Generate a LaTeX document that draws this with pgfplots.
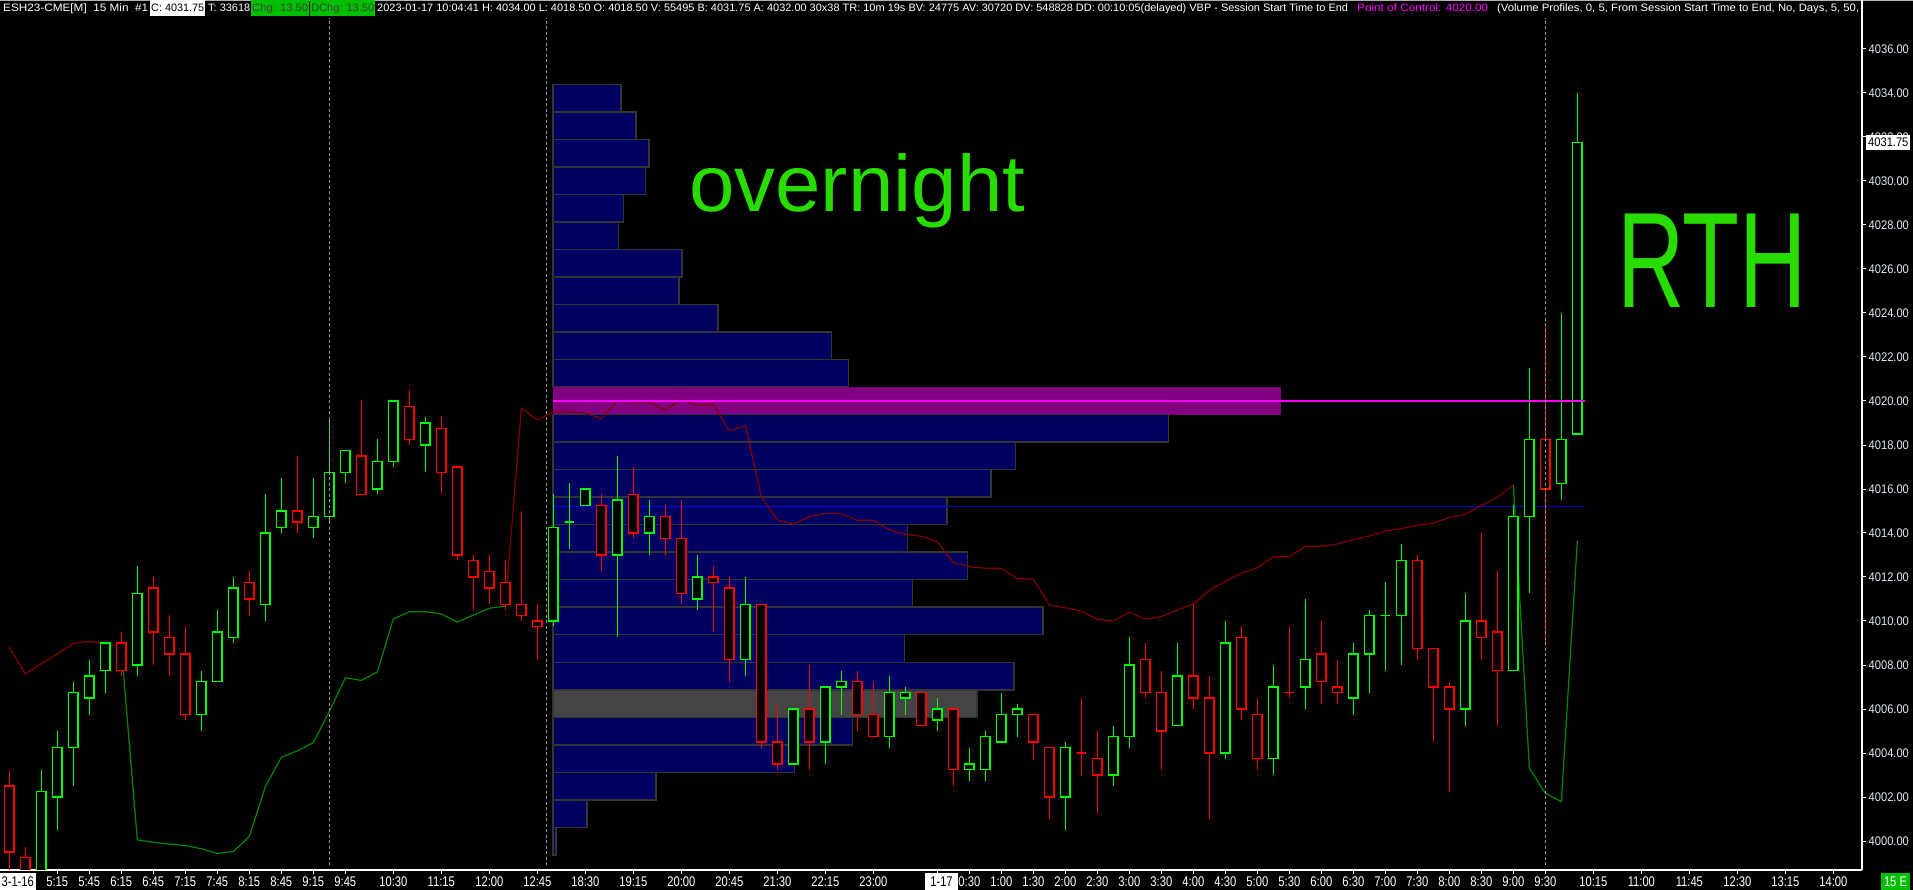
\documentclass[border=0pt]{standalone}
\usepackage{fontspec}
\setmainfont{Liberation Sans}
\newfontfamily\narx[FakeStretch=0.8]{Liberation Sans}
\newfontfamily\nary[FakeStretch=0.89]{Liberation Sans}
\usepackage{graphicx}
\usepackage{pgfplots}
\pgfplotsset{compat=1.18}
\usepgfplotslibrary{statistics}

\definecolor{cgreen}{RGB}{0,255,0}
\definecolor{cred}{RGB}{255,0,0}
\definecolor{dred}{RGB}{128,0,0}
\definecolor{lgreen}{RGB}{0,135,0}
\definecolor{vpnavy}{RGB}{0,0,96}
\definecolor{vpedge}{RGB}{52,52,52}
\definecolor{pocfill}{RGB}{128,0,128}
\definecolor{poc}{RGB}{255,0,255}
\definecolor{vgray}{RGB}{68,68,68}
\definecolor{hand}{RGB}{40,220,0}
\definecolor{boxgreen}{RGB}{0,190,0}
\definecolor{ylab}{RGB}{225,232,240}
\definecolor{dotg}{RGB}{150,150,150}
\definecolor{vblue}{RGB}{0,0,220}

\newcommand\xfont{\narx\fontsize{14bp}{14bp}\selectfont}
\newcommand\yfont{\nary\fontsize{12.5bp}{12.5bp}\selectfont}
\newcommand\hfont{\fontsize{10.75bp}{11bp}\selectfont}

\newlength\fitlen
\newcommand\fit[2]{%
  \settowidth\fitlen{#2}%
  \pgfmathsetmacro\fitsx{(#1)/\fitlen}%
  \scalebox{\fitsx}[1]{#2}}

\pgfplotsset{
  candG/.style={draw=cgreen, fill=black, line width=1.3bp, solid, mark=none},
  candR/.style={draw=cred, fill=black, line width=1.3bp, solid, mark=none},
  vp/.style={draw=vpedge, fill=vpnavy, line width=1.5bp},
  vppoc/.style={draw=none, fill=pocfill},
  vpgray/.style={draw=vpedge, fill=vgray, line width=1.5bp},
}
\newcommand\cG[5]{\addplot[candG, boxplot prepared={draw position=#1, lower whisker=#2, lower quartile=#3, median=#3, upper quartile=#4, upper whisker=#5}] coordinates {};}
\newcommand\cR[5]{\addplot[candR, boxplot prepared={draw position=#1, lower whisker=#2, lower quartile=#3, median=#3, upper quartile=#4, upper whisker=#5}] coordinates {};}
\newcommand\vb[4][vp]{\addplot[#1] coordinates {(33.97,#2) (#4,#2) (#4,#3) (33.97,#3)} -- cycle;}

\begin{document}
\begin{tikzpicture}[x=1bp,y=1bp]
\path[use as bounding box, fill=black] (0,0) rectangle (1913,890);
\fill[black!30] (0,888.6) rectangle (1913,890);

\begin{axis}[
  at={(0bp,20bp)}, anchor=south west,
  scale only axis, width=1862bp, height=852bp,
  xmin=-0.58125, xmax=115.79, ymin=3998.682, ymax=4037.41,
  axis x line*=bottom, axis y line*=right,
  axis line style={-, white, line width=1.2bp},
  every outer x axis line/.append style={-},
  every outer y axis line/.append style={-},
  xtick pos=bottom, ytick pos=right, yticklabel pos=right,
  tick align=outside, major tick length=4bp,
  tick style={white, line width=1bp},
  boxplot/draw direction=y, boxplot/box extend=0.58, boxplot/whisker extend=0,
  scaled y ticks=false,
  ytick={4000,4002,...,4036},
  yticklabel style={font=\yfont, text=ylab, inner sep=2.5bp,
    /pgf/number format/.cd, fixed, fixed zerofill, precision=2, 1000 sep={}, assume math mode=true},
  xtick={3,5,7,9,11,13,15,17,19,21,24,27,30,33,36,39,42,45,48,51,54,58,60,62,64,66,68,70,72,74,76,78,80,82,84,86,88,90,92,94,96,99,102,105,108,111,114},
  xticklabels={5:15,5:45,6:15,6:45,7:15,7:45,8:15,8:45,9:15,9:45,10:30,11:15,12:00,12:45,18:30,19:15,20:00,20:45,21:30,22:15,23:00,{},0:30,1:00,1:30,2:00,2:30,3:00,3:30,4:00,4:30,5:00,5:30,6:00,6:30,7:00,7:30,8:00,8:30,9:00,9:30,10:15,11:00,11:45,12:30,13:15,14:00},
  xticklabel style={font=\xfont, text=white, inner sep=1bp, yshift=-2bp},
]
% ---- volume profile ----
\vb{4033.125}{4034.375}{38.23}
\vb{4031.875}{4033.125}{39.17}
\vb{4030.625}{4031.875}{39.98}
\vb{4029.375}{4030.625}{39.76}
\vb{4028.125}{4029.375}{38.39}
\vb{4026.875}{4028.125}{38.08}
\vb{4025.625}{4026.875}{42.04}
\vb{4024.375}{4025.625}{41.86}
\vb{4023.125}{4024.375}{44.29}
\vb{4021.875}{4023.125}{51.40}
\vb{4020.625}{4021.875}{52.46}
\vb[vppoc]{4019.375}{4020.625}{79.48}
\vb{4018.125}{4019.375}{72.46}
\vb{4016.875}{4018.125}{62.90}
\vb{4015.625}{4016.875}{61.34}
\vb{4014.375}{4015.625}{58.59}
\vb{4013.125}{4014.375}{56.15}
\vb{4011.875}{4013.125}{59.88}
\vb{4010.625}{4011.875}{56.46}
\vb{4009.375}{4010.625}{64.59}
\vb{4008.125}{4009.375}{55.96}
\vb{4006.875}{4008.125}{62.78}
\vb[vpgray]{4005.625}{4006.875}{60.47}
\vb{4004.375}{4005.625}{52.70}
\vb{4003.125}{4004.375}{49.08}
\vb{4001.875}{4003.125}{40.42}
\vb{4000.625}{4001.875}{36.11}
\vb{3999.375}{4000.625}{34.17}

% ---- blue level line ----
\addplot[vblue, line width=1bp, mark=none] coordinates {(34,4015.2) (98.48,4015.2)};

% ---- indicator line ----
\addplot[dred, line width=1.2bp, mark=none] coordinates {(0,4008.82) (1,4007.6) (2,4008.05) (3,4008.5) (4,4008.98) (5,4009.07) (6,4008.98) (7,4008.83)};
\addplot[lgreen, line width=1.2bp, mark=none] coordinates {(7,4008.83) (8,4000.05) (9,3999.94) (10,3999.86) (11,3999.79) (12,3999.65) (13,3999.44) (14,3999.52) (15,4000.2) (16,4002.47) (17,4003.8) (18,4004.1) (19,4004.47) (20,4005.88) (21,4007.42) (22,4007.3) (23,4007.68) (24,4010.09) (25,4010.42) (26,4010.42) (27,4010.32) (28,4009.95) (29,4010.27) (30,4010.58) (31,4010.68)};
\addplot[dred, line width=1.2bp, mark=none] coordinates {(31,4010.68) (32,4019.67) (33,4019.14) (34,4019.5) (35,4019.5) (36,4019.45) (37,4019.2) (38,4020.0) (39,4019.95) (40,4019.95) (41,4019.6) (42,4020.05) (43,4019.8) (44,4019.85) (45,4018.64) (46,4018.88) (47,4015.65) (48,4014.6) (49,4014.4) (50,4014.74) (51,4014.88) (52,4014.88) (53,4014.58) (54,4014.58) (55,4014.14) (56,4013.94) (57,4013.85) (58,4013.6) (59,4012.66) (60,4012.47) (61,4012.4) (62,4012.4) (63,4011.93) (64,4011.9) (65,4010.73) (66,4010.6) (67,4010.45) (68,4010.08) (69,4010.0) (70,4010.4) (71,4010.08) (72,4010.2) (73,4010.5) (74,4010.77) (75,4011.4) (76,4011.8) (77,4012.17) (78,4012.42) (79,4012.92) (80,4012.92) (81,4013.4) (82,4013.4) (83,4013.5) (84,4013.7) (85,4013.86) (86,4014.1) (87,4014.2) (88,4014.35) (89,4014.45) (90,4014.7) (91,4014.85) (92,4015.25) (93,4015.62) (94,4016.18)};
\addplot[lgreen, line width=1.2bp, mark=none] coordinates {(94,4016.18) (95,4003.3) (96,4002.17) (97,4001.79) (98,4013.64)};

% ---- candles: index, low, body bottom, body top, high ----
\cR{0}{3998}{3999.5}{4002.5}{4003.25}
\cR{1}{3998}{3998.5}{3999.25}{3999.75}
\cG{2}{3998}{3998.5}{4002.25}{4003.25}
\cG{3}{4000.5}{4002}{4004.25}{4005}
\cG{4}{4002.5}{4004.25}{4006.75}{4007.25}
\cG{5}{4005.75}{4006.5}{4007.5}{4008.25}
\cG{6}{4006.75}{4007.75}{4009}{4009}
\cR{7}{4007.5}{4007.75}{4009}{4009.5}
\cG{8}{4007.5}{4008}{4011.25}{4012.5}
\cR{9}{4008}{4009.5}{4011.5}{4012}
\cR{10}{4007.5}{4008.5}{4009.25}{4010.25}
\cR{11}{4005.5}{4005.75}{4008.5}{4009.75}
\cG{12}{4005}{4005.75}{4007.25}{4007.75}
\cG{13}{4007.25}{4007.25}{4009.5}{4010.5}
\cG{14}{4009}{4009.25}{4011.5}{4012}
\cR{15}{4010.25}{4011}{4011.75}{4012.25}
\cG{16}{4010}{4010.75}{4014}{4015.75}
\cG{17}{4014}{4014.25}{4015}{4016.5}
\cR{18}{4014}{4014.5}{4015}{4017.5}
\cG{19}{4013.75}{4014.25}{4014.75}{4016.5}
\cG{20}{4014.5}{4014.75}{4016.75}{4019.25}
\cG{21}{4016.25}{4016.75}{4017.75}{4017.75}
\cR{22}{4015.75}{4015.75}{4017.5}{4020}
\cG{23}{4015.75}{4016}{4017.25}{4018.25}
\cG{24}{4017}{4017.25}{4020}{4020}
\cR{25}{4018}{4018.25}{4019.75}{4020.5}
\cG{26}{4016.75}{4018}{4019}{4019.25}
\cR{27}{4015.75}{4016.75}{4018.75}{4019.25}
\cR{28}{4012.75}{4013}{4017}{4017}
\cR{29}{4010.5}{4012}{4012.75}{4013}
\cR{30}{4010.75}{4011.5}{4012.25}{4013}
\cR{31}{4010.5}{4010.75}{4011.75}{4012.75}
\cR{32}{4010}{4010.25}{4010.75}{4015}
\cR{33}{4008.25}{4009.75}{4010}{4010.75}
\cG{34}{4009.75}{4010}{4014.25}{4015.75}
\cG{35}{4013.25}{4014.5}{4014.5}{4016.25}
\cG{36}{4015.25}{4015.25}{4016}{4016}
\cR{37}{4012.25}{4013}{4015.25}{4015.75}
\cG{38}{4009.25}{4013}{4015.5}{4017.5}
\cR{39}{4013.75}{4014}{4015.75}{4017}
\cG{40}{4013}{4014}{4014.75}{4015.5}
\cR{41}{4013}{4013.75}{4014.75}{4015.25}
\cR{42}{4010.75}{4011.25}{4013.75}{4015.5}
\cG{43}{4010.5}{4011}{4012}{4013}
\cR{44}{4009.5}{4011.75}{4012}{4012.5}
\cR{45}{4007.25}{4008.25}{4011.5}{4012}
\cG{46}{4007.5}{4008.25}{4010.75}{4012}
\cR{47}{4004.25}{4004.5}{4010.75}{4010.75}
\cR{48}{4003.25}{4003.5}{4004.5}{4006.25}
\cG{49}{4003.5}{4003.5}{4006}{4006}
\cR{50}{4003.25}{4004.5}{4006}{4008}
\cG{51}{4003.5}{4004.5}{4007}{4007}
\cG{52}{4005.75}{4007}{4007.25}{4007.75}
\cR{53}{4005}{4005.75}{4007.25}{4007.75}
\cR{54}{4004.75}{4004.75}{4005.75}{4007.25}
\cG{55}{4004.25}{4004.75}{4006.75}{4007.5}
\cG{56}{4005.75}{4006.5}{4006.75}{4007}
\cR{57}{4005.25}{4005.25}{4006.75}{4006.75}
\cG{58}{4005}{4005.5}{4006}{4006.5}
\cR{59}{4002.5}{4003.25}{4006}{4006}
\cG{60}{4002.75}{4003.25}{4003.5}{4004.25}
\cG{61}{4002.75}{4003.25}{4004.75}{4005}
\cG{62}{4004.5}{4004.5}{4005.75}{4006.75}
\cG{63}{4004.75}{4005.75}{4006}{4006.25}
\cR{64}{4003.75}{4004.5}{4005.75}{4005.75}
\cR{65}{4001}{4002}{4004.25}{4004.25}
\cG{66}{4000.5}{4002}{4004.25}{4004.5}
\cR{67}{4003}{4004}{4004}{4006.5}
\cR{68}{4001.25}{4003}{4003.75}{4005}
\cG{69}{4002.5}{4003}{4004.75}{4005.25}
\cG{70}{4004.25}{4004.75}{4008}{4009.25}
\cR{71}{4006.5}{4006.75}{4008.25}{4009}
\cR{72}{4003.25}{4005}{4006.75}{4007.75}
\cG{73}{4005.25}{4005.25}{4007.5}{4009}
\cR{74}{4006}{4006.5}{4007.5}{4010.75}
\cR{75}{4001}{4004}{4006.5}{4007.5}
\cG{76}{4003.75}{4004}{4009}{4010}
\cR{77}{4005.5}{4006}{4009.25}{4009.75}
\cR{78}{4003.25}{4003.75}{4005.75}{4006.5}
\cG{79}{4003}{4003.75}{4007}{4008}
\cR{80}{4006.5}{4006.75}{4006.75}{4009.75}
\cG{81}{4006}{4007}{4008.25}{4011}
\cR{82}{4006.25}{4007.25}{4008.5}{4010}
\cR{83}{4006.25}{4006.75}{4007}{4008.25}
\cG{84}{4005.75}{4006.5}{4008.5}{4009}
\cG{85}{4006.75}{4008.5}{4010.25}{4010.5}
\cG{86}{4007.75}{4010.25}{4010.25}{4011.75}
\cG{87}{4008}{4010.25}{4012.75}{4013.5}
\cR{88}{4008.25}{4008.75}{4012.75}{4013}
\cR{89}{4004.5}{4007}{4008.75}{4008.75}
\cR{90}{4002.25}{4006}{4007}{4007.25}
\cG{91}{4005.25}{4006}{4010}{4011.25}
\cR{92}{4008.25}{4009.25}{4010}{4014}
\cR{93}{4005.25}{4007.75}{4009.5}{4012.25}
\cG{94}{4007.75}{4007.75}{4014.75}{4015.25}
\cG{95}{4011.25}{4014.75}{4018.25}{4021.5}
\cR{96}{4009}{4016}{4018.25}{4023.5}
\cG{97}{4015.5}{4016.25}{4018.25}{4024}
\cG{98}{4018.5}{4018.5}{4031.75}{4034}

% ---- point of control line ----
\addplot[poc, line width=2.3bp, mark=none] coordinates {(34,4020) (98.48,4020)};

% ---- session separators ----
\addplot[dotg, line width=1.1bp, dash pattern=on 3bp off 2.5bp, mark=none] coordinates {(20,3998.9) (20,4037.41)};
\addplot[dotg, line width=1.1bp, dash pattern=on 3bp off 2.5bp, mark=none] coordinates {(33.59,3998.9) (33.59,4037.41)};
\addplot[dotg, line width=1.1bp, dash pattern=on 3bp off 2.5bp, mark=none] coordinates {(96,3998.9) (96,4037.41)};
\end{axis}

% right axis line up to the top
\draw[white, line width=1.2bp] (1862,860) -- (1862,890);

% ---- header ----
\node[anchor=base west, inner sep=0, text=white, font=\hfont] at (3,878.3) {\fit{145bp}{ESH23-CME[M]\ \ 15 Min\ \ \#1}};
\fill[white] (150,874) rectangle (205,889.5);
\node[anchor=base west, inner sep=0, text=black, font=\hfont] at (151,878.3) {\fit{53bp}{C: 4031.75}};
\node[anchor=base west, inner sep=0, text=white, font=\hfont] at (208,878.3) {\fit{42bp}{T: 33618}};
\fill[boxgreen] (251,874) rectangle (309,889.5);
\node[anchor=base west, inner sep=0, text=black!75, font=\hfont] at (252,878.3) {\fit{56bp}{Chg: 13.50}};
\fill[boxgreen] (310,874) rectangle (375,889.5);
\node[anchor=base west, inner sep=0, text=black!75, font=\hfont] at (311,878.3) {\fit{63bp}{DChg: 13.50}};
\node[anchor=base west, inner sep=0, text=white, font=\hfont] at (377,878.3) {\fit{971bp}{2023-01-17 10:04:41 H: 4034.00 L: 4018.50 O: 4018.50 V: 55495 B: 4031.75 A: 4032.00 30x38 TR: 10m 19s BV: 24775 AV: 30720 DV: 548828 DD: 00:10:05(delayed) VBP - Session Start Time to End}};
\node[anchor=base west, inner sep=0, text=poc, font=\hfont] at (1357,878.3) {\fit{131bp}{Point of Control: 4020.00}};
\node[anchor=base west, inner sep=0, text=white, font=\hfont] at (1497,878.3) {\fit{362bp}{(Volume Profiles, 0, 5, From Session Start Time to End, No, Days, 5, 50,}};

% ---- date boxes and status ----
\fill[white] (0,0) rectangle (35.5,17);
\node[inner sep=0, text=black, font=\xfont] at (17.75,8.5) {3-1-16};
\fill[white] (925,0) rectangle (958,17);
\node[inner sep=0, text=black, font=\xfont] at (941.5,8.5) {1-17};
\fill[boxgreen] (1881,0) rectangle (1910,17);
\node[inner sep=0, text=white, font=\xfont] at (1895.5,8.5) {15 E};

% ---- current price label ----
\fill[white] (1866,740) rectangle (1910,755);
\node[anchor=west, inner sep=0, text=black, font=\yfont] at (1868,747.5) {4031.75};

% ---- hand annotations ----
\node[anchor=base west, inner sep=0, text=hand, font=\fontsize{80bp}{80bp}\selectfont] at (689,678) {\fit{336bp}{overnight}};
\node[anchor=base west, inner sep=0, text=hand, font=\fontsize{136bp}{136bp}\selectfont] at (1617,582) {\fit{190bp}{RTH}};
\end{tikzpicture}
\end{document}
